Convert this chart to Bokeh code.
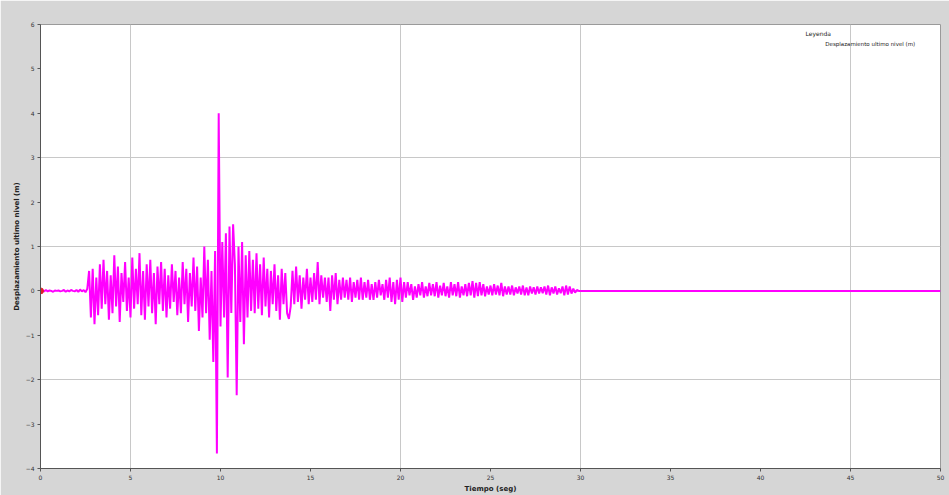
from bokeh.plotting import figure
from bokeh.models import ColumnDataSource, FixedTicker, Label
from bokeh.embed import file_html
from bokeh.resources import INLINE

# Roof displacement history, sampled every 0.1 s from 0 to 30 s (one row per second)
disp_rows = [
    [0, 0.01, -0.01, 0.02, -0.01, 0.01, 0, -0.02, 0.01, 0],
    [0.01, -0.01, 0, 0.02, -0.02, 0.01, -0.01, 0.02, 0, -0.01],
    [0.02, -0.02, 0.03, -0.01, 0.02, -0.03, 0.05, 0.45, -0.6, 0.5],
    [-0.75, 0.3, -0.55, 0.6, -0.4, 0.7, -0.3, 0.45, -0.65, 0.35],
    [-0.5, 0.8, -0.35, 0.55, -0.7, 0.4, -0.25, 0.65, -0.45, 0.3],
    [-0.6, 0.75, -0.4, 0.5, -0.3, 0.85, -0.55, 0.45, -0.65, 0.6],
    [-0.35, 0.7, -0.5, 0.4, -0.75, 0.55, -0.3, 0.65, -0.45, 0.5],
    [-0.6, 0.35, -0.4, 0.6, -0.25, 0.45, -0.55, 0.3, -0.5, 0.65],
    [-0.3, 0.5, -0.7, 0.4, -0.35, 0.75, -0.45, 0.55, -0.9, 0.3],
    [-0.6, 1.0, -0.5, 0.7, -1.1, 0.45, -1.6, 0.9, -3.66, 4.0],
    [-0.8, 1.1, -0.6, 1.3, -1.95, 1.45, -0.5, 1.5, 0.6, -2.35],
    [1.0, -0.7, 1.1, -1.2, 0.8, -0.6, 0.9, -0.45, 0.7, -0.5],
    [0.85, -0.4, 0.6, -0.55, 0.75, -0.35, 0.5, -0.6, 0.45, -0.3],
    [0.6, -0.45, 0.35, -0.65, 0.5, -0.3, 0.4, -0.5, -0.63, -0.35],
    [0.45, -0.3, 0.55, -0.25, 0.35, -0.4, 0.3, -0.2, 0.5, -0.3],
    [0.3, -0.25, 0.4, -0.2, 0.65, -0.3, 0.35, -0.15, 0.3, -0.25],
    [0.3, -0.45, 0.35, -0.2, 0.4, -0.3, 0.25, -0.2, 0.3, -0.15],
    [0.25, -0.2, 0.3, -0.25, 0.2, -0.15, 0.25, -0.2, 0.3, -0.2],
    [0.2, -0.15, 0.25, -0.2, 0.15, -0.2, 0.2, -0.15, 0.25, -0.1],
    [0.15, -0.2, 0.25, -0.15, 0.3, -0.25, 0.2, -0.3, 0.25, -0.2],
    [0.3, -0.25, 0.2, -0.15, 0.2, -0.1, 0.15, -0.2, 0.1, -0.15],
    [0.15, -0.1, 0.2, -0.15, 0.1, -0.12, 0.18, -0.1, 0.15, -0.12],
    [0.2, -0.15, 0.12, -0.1, 0.18, -0.12, 0.1, -0.15, 0.2, -0.1],
    [0.15, -0.12, 0.2, -0.15, 0.1, -0.1, 0.15, -0.12, 0.18, -0.1],
    [0.22, -0.15, 0.18, -0.12, 0.2, -0.1, 0.15, -0.12, 0.1, -0.08],
    [0.12, -0.1, 0.15, -0.08, 0.12, -0.1, 0.18, -0.12, 0.1, -0.08],
    [0.1, -0.08, 0.12, -0.1, 0.08, -0.06, 0.1, -0.08, 0.12, -0.1],
    [0.08, -0.1, 0.1, -0.06, 0.08, -0.08, 0.1, -0.06, 0.08, -0.05],
    [0.1, -0.08, 0.12, -0.1, 0.08, -0.06, 0.1, -0.08, 0.06, -0.05],
    [0.1, -0.1, 0.12, -0.08, 0.1, -0.06, 0.05, -0.04, 0.02, 0],
]
tail_time = [30.0, 50.0]
tail_disp = [0.0, 0.0]

x_ticks = [0, 5, 10, 15, 20, 25, 30, 35, 40, 45, 50]
y_ticks = [-4, -3, -2, -1, 0, 1, 2, 3, 4, 5, 6]
x_grid = [5, 20, 30, 45]
y_grid = [-2, 3, 1]

disp = [v for row in disp_rows for v in row] + tail_disp
time = [round(i * 0.1, 1) for i in range(len(disp) - 2)] + tail_time

src = ColumnDataSource(dict(t=time, d=disp))

p = figure(width=949, height=495, output_backend="svg", toolbar_location=None,
           x_range=(0, 50), y_range=(-4, 6),
           min_border_left=40, min_border_right=9, min_border_top=24, min_border_bottom=25)
p.border_fill_color = "#d6d6d6"
p.background_fill_color = "white"
p.outline_line_color = "#9a9a9a"

p.line("t", "d", source=src, line_color="#ff00ff", line_width=2)
p.scatter([0], [0], size=6, color="#e0202a")

for ax in (p.xaxis[0], p.yaxis[0]):
    ax.major_label_text_font = "DejaVu Sans"
    ax.major_label_text_font_size = "6px"
    ax.major_label_text_color = "#333333"
    ax.axis_label_text_font = "DejaVu Sans"
    ax.axis_label_text_font_size = "7px"
    ax.axis_label_text_font_style = "bold"
    ax.axis_label_text_color = "#222222"
    ax.axis_line_color = "#555555"
    ax.major_tick_line_color = "#555555"
    ax.major_tick_out = 3
    ax.major_tick_in = 0
    ax.minor_tick_line_color = None
    ax.axis_label_standoff = 2
    ax.major_label_standoff = 3

p.xaxis.ticker = FixedTicker(ticks=x_ticks)
p.yaxis.ticker = FixedTicker(ticks=y_ticks)
p.xaxis.axis_label = "Tiempo (seg)"
p.yaxis.axis_label = "Desplazamiento ultimo nivel (m)"

p.xgrid.ticker = FixedTicker(ticks=x_grid)
p.ygrid.ticker = FixedTicker(ticks=y_grid)
p.grid.grid_line_color = "#c8c8c8"
p.grid.grid_line_width = 1

# legend block in the top-right corner of the plot area
p.add_layout(Label(x=42.5, y=5.8, text="Leyenda", text_baseline="middle",
                   text_font="DejaVu Sans", text_font_size="6px", text_color="#222222"))
p.add_layout(Label(x=43.6, y=5.55, text="Desplazamiento ultimo nivel (m)", text_baseline="middle",
                   text_font="DejaVu Sans", text_font_size="5.5px", text_color="#222222"))

open("out.html", "w").write(file_html(p, INLINE))
